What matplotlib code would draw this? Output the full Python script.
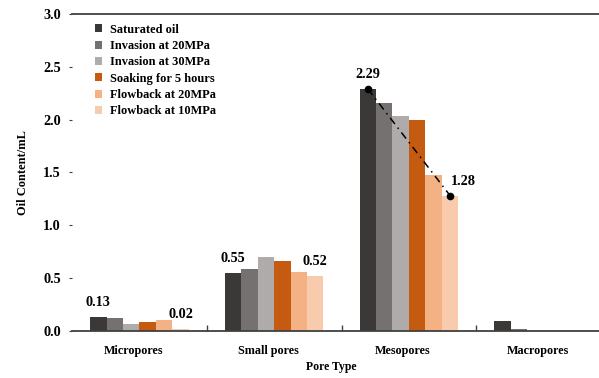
import numpy as np
import matplotlib.pyplot as plt
from matplotlib.patches import Patch

plt.rcParams['font.family'] = ['Liberation Serif', 'DejaVu Serif']
plt.rcParams['font.weight'] = 'bold'

pore_types = ["Micropores", "Small pores", "Mesopores", "Macropores"]
stages = ["Saturated oil", "Invasion at 20MPa", "Invasion at 30MPa",
          "Soaking for 5 hours", "Flowback at 20MPa", "Flowback at 10MPa"]
saturated = [0.13, 0.55, 2.29, 0.09]
invasion_20 = [0.12, 0.58, 2.16, 0.02]
invasion_30 = [0.06, 0.70, 2.03, 0.0]
soaking_5h = [0.08, 0.66, 2.00, 0.0]
flowback_20 = [0.10, 0.56, 1.47, 0.0]
flowback_10 = [0.02, 0.52, 1.28, 0.0]
colors = ["#3b3838", "#767171", "#afabab", "#c55a11", "#f4b183", "#f8cbad"]

series = [saturated, invasion_20, invasion_30, soaking_5h, flowback_20, flowback_10]

fig = plt.figure(figsize=(5.99, 3.78), dpi=100)
ax = fig.add_axes([0.1202, 0.1251, 0.90, 0.838])

x = np.arange(len(pore_types))
w = 0.122
for i, (vals, c) in enumerate(zip(series, colors)):
    ax.bar(x + (i - 2.5) * w, vals, width=w, color=c, linewidth=0, zorder=2)

# value labels on the first and last bars of the first three groups
lab_kw = dict(fontsize=10.3, fontweight='bold', ha='center', va='center')
off = 0.135
for j in range(3):
    x0 = x[j] - 2.5 * w
    x5 = x[j] + 2.5 * w
    ax.text(x0, saturated[j] + off, "%.2f" % saturated[j], **lab_kw)
    if j == 2:
        ax.text(x5 + 0.1, flowback_10[j] + off, "%.2f" % flowback_10[j], **lab_kw)
    else:
        ax.text(x5, flowback_10[j] + off, "%.2f" % flowback_10[j], **lab_kw)

# trend line across the mesopores group
ax.plot([x[2] - 2.5 * w, x[2] + 2.5 * w], [saturated[2], flowback_10[2]],
        color='black', linestyle=(0, (5, 3, 1, 3)), linewidth=1.1,
        marker='o', markersize=4.5, zorder=3)

ax.set_xlim(-0.5, 3.5)
ax.set_ylim(0, 3.0)
ax.set_yticks(np.arange(0, 3.01, 0.5))
ax.set_yticklabels(["%.1f" % v for v in np.arange(0, 3.01, 0.5)], fontsize=10.3, fontweight='bold')
# category names sit a little left of the group centres
ax.set_xticks(x - 0.045)
ax.set_xticklabels(pore_types, fontsize=8.7, fontweight='bold')
ax.set_xticks([0.5, 1.5, 2.5], minor=True)
ax.tick_params(axis='x', which='major', length=0, pad=10)
ax.tick_params(axis='x', which='minor', direction='in', length=4, width=1, color='#404040')
ax.tick_params(axis='y', length=2, width=0.8, color='#404040', pad=6)

for s in ['left', 'right']:
    ax.spines[s].set_visible(False)
for s in ['top', 'bottom']:
    ax.spines[s].set_color('#404040')
    ax.spines[s].set_linewidth(1.3)

ax.set_ylabel("Oil Content/mL", fontsize=8.9, fontweight='bold', labelpad=10)
fig.text(0.553, 0.03, "Pore Type", fontsize=8.5, fontweight='bold', ha='center', va='center')

handles = [Patch(facecolor=c, edgecolor='none') for c in colors]
ax.legend(handles, stages, loc='upper left', bbox_to_anchor=(0.033, 0.985), frameon=False,
          prop={'family': 'Liberation Serif', 'weight': 'bold', 'size': 8.9},
          handlelength=0.6, handleheight=0.6, handletextpad=0.6, labelspacing=0.35,
          borderaxespad=0)

fig.savefig("out.png", dpi=100)
